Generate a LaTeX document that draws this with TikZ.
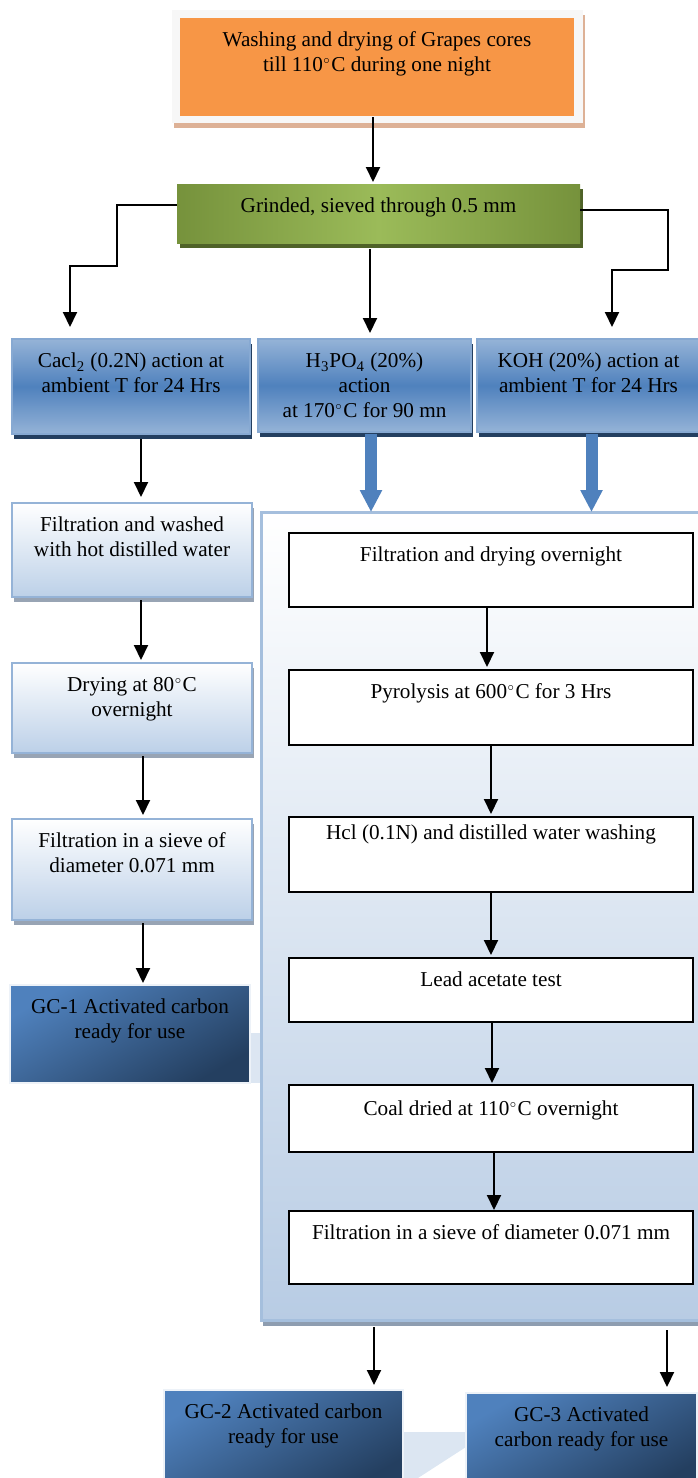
\documentclass[tikz,border=0pt]{standalone}
\usepackage{fontspec}
\setmainfont{Liberation Serif}
\usetikzlibrary{arrows.meta, shadows}

\definecolor{washorange}{HTML}{F79646}
\definecolor{washshadow}{HTML}{DDB196}
\definecolor{grinddark}{HTML}{76923C}
\definecolor{grindlight}{HTML}{9BBB59}
\definecolor{grindshadow}{HTML}{4F6228}
\definecolor{actlight}{HTML}{95B3D7}
\definecolor{actmid}{HTML}{4F81BD}
\definecolor{actshadow}{HTML}{243F60}
\definecolor{stepline}{HTML}{95B3D7}
\definecolor{stepbottom}{HTML}{BCD0E8}
\definecolor{stepshadow}{HTML}{98A4B4}
\definecolor{gcdark}{HTML}{243F60}
\definecolor{panelline}{HTML}{A5BFDD}
\definecolor{panelbottom}{HTML}{B8CCE4}
\definecolor{panelshadow}{HTML}{8E9DB0}
\definecolor{palebg}{HTML}{DCE6F2}

\newcommand{\dg}{$^{\scriptscriptstyle\circ}$}

\begin{document}
\begin{tikzpicture}[x=0.5pt, y=-0.5pt, >={Triangle[width=7pt, length=7.5pt]},
  font=\fontsize{10.6}{12.5}\selectfont, inner sep=0pt, outer sep=0pt,
  txt/.style={anchor=north, align=center, yshift=-7pt},
  flow/.style={->, line width=1pt},
  blockarr/.style={line width=6pt, actmid, -{Triangle[width=10.5pt, length=11pt]}},
  topframe/.style={fill=gray!6, drop shadow={shadow xshift=0.75pt, shadow yshift=-2.5pt, fill=washshadow, opacity=1}},
  orangebox/.style={fill=washorange},
  greenbox/.style={left color=grinddark, right color=grinddark, middle color=grindlight,
    drop shadow={shadow xshift=1.5pt, shadow yshift=-2.5pt, fill=grindshadow, opacity=1}},
  actbox/.style={top color=actlight, bottom color=actlight, middle color=actmid, draw=actlight!80!actmid, line width=1pt,
    drop shadow={shadow xshift=1pt, shadow yshift=-2.5pt, fill=actshadow, opacity=1}},
  stepbox/.style={top color=white, bottom color=stepbottom, draw=stepline, line width=1pt, minimum width=120pt,
    drop shadow={shadow xshift=1pt, shadow yshift=-2.5pt, fill=stepshadow, opacity=1}},
  panel/.style={top color=white, bottom color=panelbottom, draw=panelline, line width=1.5pt,
    drop shadow={shadow xshift=1pt, shadow yshift=-3pt, fill=panelshadow, opacity=1}},
  whitebox/.style={draw, fill=white, line width=1pt, minimum width=202pt},
  gcbox/.style={top color=actmid, bottom color=gcdark, shading angle=30, draw=white!90!actmid, line width=1pt}]
  \useasboundingbox (0,0) rectangle (697,1478);

  % pale back shapes
  \fill[palebg] (250,1033) rectangle (261,1083);
  \fill[palebg] (403,1432) -- (466,1432) -- (466,1447) -- (418,1478) -- (403,1478) -- cycle;

  % top
  \node[topframe, minimum width=205.5pt, minimum height=56.5pt] (wash) at (377.5,66.5) {};
  \node[orangebox, minimum width=197pt, minimum height=49pt,
    label={[txt]north:{Washing and drying of Grapes cores\\till 110\dg C during one night}}] (washbox) at (377,67) {};
  \node[greenbox, minimum width=201.5pt, minimum height=29.5pt,
    label={[txt]north:{Grinded, sieved through 0.5 mm}}] (grind) at (378.5,213.5) {};

  % activation
  \node[actbox, minimum width=119pt, minimum height=47.5pt,
    label={[txt]north:{Cacl\textsubscript{2} (0.2N) action at\\ambient T for 24 Hrs}}] (cacl) at (131,386.5) {};
  \node[actbox, minimum width=106.5pt, minimum height=46.5pt,
    label={[txt]north:{H\textsubscript{3}PO\textsubscript{4} (20\%)\\action\\at 170\dg C for 90 mn}}] (hpo) at (364.5,385.5) {};
  \node[actbox, minimum width=111.5pt, minimum height=46.5pt,
    label={[txt]north:{KOH (20\%) action at\\ambient T for 24 Hrs}}] (koh) at (588.5,385.5) {};

  % left branch
  \node[stepbox, minimum height=47pt,
    label={[txt]north:{Filtration and washed\\with hot distilled water}}] (filt) at (132,550) {};
  \node[stepbox, minimum height=45pt,
    label={[txt]north:{Drying at 80\dg C\\overnight}}] (dry) at (132,708) {};
  \node[stepbox, minimum height=50.5pt,
    label={[txt]north:{Filtration in a sieve of\\diameter 0.071 mm}}] (sieve) at (132,869.5) {};
  \node[gcbox, minimum width=120pt, minimum height=49pt,
    label={[txt]north:{GC-1 Activated carbon\\ready for use}}] (gca) at (130,1034) {};

  % right branch
  \node[panel, minimum width=222pt, minimum height=404pt] (cont) at (483,916) {};
  \node[whitebox, minimum height=37pt,
    label={[txt]north:{Filtration and drying overnight}}] (fdry) at (491,570) {};
  \node[whitebox, minimum height=37.5pt,
    label={[txt]north:{Pyrolysis at 600\dg C for 3 Hrs}}] (pyro) at (491,707.5) {};
  \node[whitebox, minimum height=37.5pt,
    label={[txt, yshift=3pt]north:{Hcl (0.1N) and distilled water washing}}] (hcl) at (491,854.5) {};
  \node[whitebox, minimum height=32pt,
    label={[txt]north:{Lead acetate test}}] (lead) at (491,990) {};
  \node[whitebox, minimum height=33.5pt,
    label={[txt, yshift=-1pt]north:{Coal dried at 110\dg C overnight}}] (coal) at (491,1118.5) {};
  \node[whitebox, minimum height=36.5pt,
    label={[txt]north:{Filtration in a sieve of diameter 0.071 mm}}] (fsieve) at (491,1247.5) {};
  \node[gcbox, minimum width=119.5pt, minimum height=50pt,
    label={[txt]north:{GC-2 Activated carbon\\ready for use}}] (gcb) at (283.5,1440) {};
  \node[gcbox, minimum width=115.5pt, minimum height=50pt,
    label={[txt]north:{GC-3 Activated\\carbon ready for use}}] (gcc) at (581.5,1443) {};

  % arrows
  \draw[flow] ([xshift=-2.25pt, yshift=3pt]wash.south) -- ([xshift=-2.75pt, yshift=1pt]grind.north);
  \draw[flow] ([yshift=4.25pt]grind.west) -| (117,266) -| ([xshift=-30.5pt, yshift=6pt]cacl.north);
  \draw[flow] ([xshift=-4.25pt, yshift=-3pt]grind.south) -- ([xshift=2.75pt, yshift=3pt]hpo.north);
  \draw[flow] ([yshift=1.75pt]grind.east) -| (668,270) -| ([xshift=11.75pt, yshift=6pt]koh.north);

  \draw[flow] ([xshift=5pt, yshift=-2.5pt]cacl.south) -- ([xshift=4.5pt, yshift=3pt]filt.north);
  \draw[flow] ([xshift=4.5pt, yshift=-1.5pt]filt.south) -- ([xshift=4.5pt, yshift=1.5pt]dry.north);
  \draw[flow] ([xshift=5.5pt, yshift=-1.5pt]dry.south) -- ([xshift=5.5pt, yshift=2pt]sieve.north);
  \draw[flow] ([xshift=5.5pt, yshift=-1.5pt]sieve.south) -- ([xshift=6.5pt, yshift=1pt]gca.north);

  \draw[blockarr] ([xshift=3.25pt, yshift=-1pt]hpo.south) -- ([xshift=-56pt]cont.north);
  \draw[blockarr] ([xshift=1.5pt, yshift=-1pt]koh.south) -- ([xshift=54.25pt]cont.north);

  \draw[flow] ([xshift=-2pt]fdry.south) -- ([xshift=-2pt, yshift=1.5pt]pyro.north);
  \draw[flow] (pyro.south) -- ([yshift=1.5pt]hcl.north);
  \draw[flow] (hcl.south) -- ([yshift=1.5pt]lead.north);
  \draw[flow] ([xshift=0.5pt]lead.south) -- ([xshift=0.5pt, yshift=1pt]coal.north);
  \draw[flow] ([xshift=1.5pt]coal.south) -- ([xshift=1.5pt, yshift=0.5pt]fsieve.north);

  \draw[flow] ([xshift=-54.5pt, yshift=-3.5pt]cont.south) -- ([xshift=45.25pt, yshift=2.5pt]gcb.north);
  \draw[flow] ([xshift=92pt, yshift=-5pt]cont.south) -- ([xshift=42.75pt, yshift=3pt]gcc.north);
\end{tikzpicture}
\end{document}
